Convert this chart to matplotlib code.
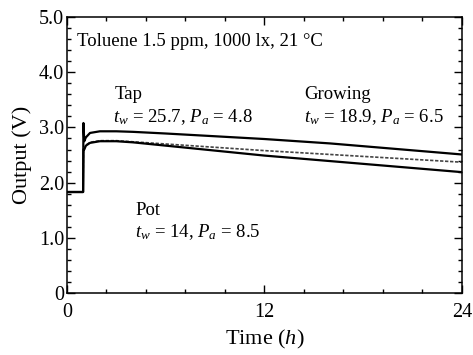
import numpy as np
import matplotlib
matplotlib.use("Agg")
import matplotlib.pyplot as plt
from matplotlib.ticker import MultipleLocator

time_h = [0, 0.98, 1.0, 1.05, 1.15, 1.4, 2, 3, 4, 6, 9, 12, 16, 20, 24]
tap = [1.83, 1.83, 3.08, 2.75, 2.82, 2.90, 2.93, 2.93, 2.92, 2.89, 2.84, 2.79, 2.71, 2.61, 2.51]
growing = [1.83, 1.83, 2.62, 2.62, 2.68, 2.73, 2.76, 2.76, 2.74, 2.70, 2.64, 2.58, 2.51, 2.44, 2.37]
pot = [1.83, 1.83, 2.60, 2.60, 2.67, 2.72, 2.75, 2.75, 2.73, 2.67, 2.58, 2.49, 2.39, 2.29, 2.19]

plt.rcParams.update({
    "font.family": ["Liberation Serif", "DejaVu Serif"],
    "mathtext.fontset": "custom",
    "mathtext.rm": "Liberation Serif",
    "mathtext.it": "Liberation Serif:italic",
    "font.size": 13,
})

fig = plt.figure(figsize=(4.73, 3.55), dpi=100)
ax = fig.add_axes([0.1416, 0.1746, 0.835, 0.7774])

ax.plot(time_h, tap, color="black", lw=1.6)
ax.plot(time_h, growing, color="#444444", lw=1.2, ls=(0, (2, 1)))
ax.plot(time_h, pot, color="black", lw=1.6)

ax.set_xlim(0, 24)
ax.set_ylim(0, 5)
ax.set_xticks([0, 12, 24])
ax.xaxis.set_minor_locator(MultipleLocator(2.4))
ax.set_yticks([0, 1, 2, 3, 4, 5])
ax.set_yticklabels(["0", "1.0", "2.0", "3.0", "4.0", "5.0"])
ax.yaxis.set_minor_locator(MultipleLocator(0.2))
ax.tick_params(which="both", direction="in", top=True, right=True, labelsize=14.5)
ax.tick_params(axis="x", pad=7)
ax.tick_params(axis="y", pad=2)
ax.tick_params(which="major", length=6, width=1)
ax.tick_params(which="minor", length=3, width=1)
for s in ax.spines.values():
    s.set_linewidth(1.1)

ax.set_xlabel("Time ($\\mathit{h}$)", fontsize=16)
ax.xaxis.set_label_coords(0.5, -0.125)
ax.set_ylabel("Output (V)", fontsize=16)
ax.yaxis.set_label_coords(-0.088, 0.5)

ax.text(0.6, 4.56, "Toluene 1.5 ppm, 1000 lx, 21 °C", fontsize=13.5, va="center")
ax.text(2.9, 3.6, "Tap", fontsize=13.5, va="center")
ax.text(2.8, 3.18, "$t_w$ = 25.7, $P_a$ = 4.8", fontsize=13.5, va="center")
ax.text(14.4, 3.6, "Growing", fontsize=13.5, va="center")
ax.text(14.4, 3.18, "$t_w$ = 18.9, $P_a$ = 6.5", fontsize=13.5, va="center")
ax.text(4.15, 1.5, "Pot", fontsize=13.5, va="center")
ax.text(4.15, 1.11, "$t_w$ = 14, $P_a$ = 8.5", fontsize=13.5, va="center")

fig.savefig("out.png", dpi=100)
